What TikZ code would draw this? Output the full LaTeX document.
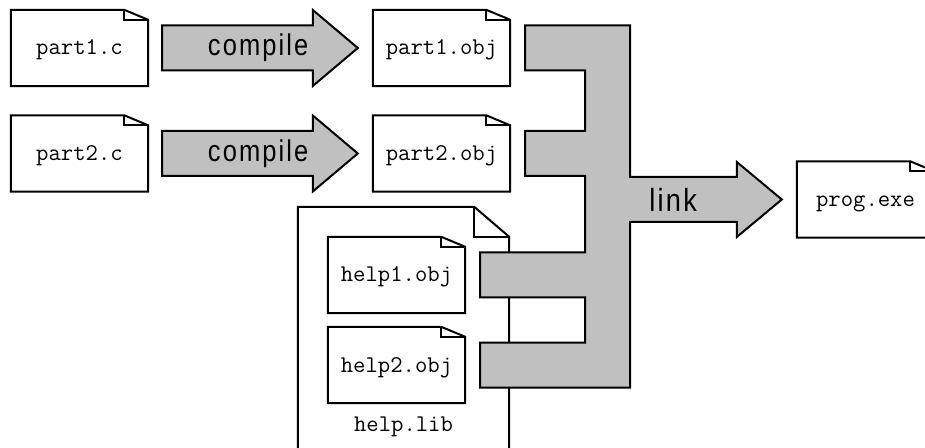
\documentclass[tikz,border=0pt]{standalone}
\usepackage{fontspec}
\newfontfamily\verbfont[FakeStretch=0.85,LetterSpace=7]{Liberation Sans}
\usetikzlibrary{calc}
\definecolor{flowgray}{RGB}{192,192,192}

% outline of a document with a dog-eared top right corner
% #1 node name, #2 fold width, #3 fold height
\newcommand\docoutline[3]{%
  \draw[fileline] (#1.south west) -- (#1.north west) -- ($(#1.north east)+(-#2,0)$)
    -- ($(#1.north east)+(0,-#3)$) -- (#1.south east) -- cycle;
  \draw[fileline] ($(#1.north east)+(-#2,0)$) -- ($(#1.north east)+(-#2,-#3)$)
    -- ($(#1.north east)+(0,-#3)$);
}

% broad grey "compile" arrow from one file to the next
% #1 source node, #2 target node, #3 name prefix
\newcommand\compilearrow[3]{%
  \coordinate (#3s) at ($(#1.east)+(14,0)$);
  \coordinate (#3e) at ($(#2.west)+(-15,0)$);
  \draw[flow] ($(#3s)+(0,22.5)$) -- ($(#3e)+(-45,22.5)$) -- ($(#3e)+(-45,38)$)
    -- (#3e) -- ($(#3e)+(-45,-38)$) -- ($(#3e)+(-45,-22.5)$)
    -- ($(#3s)+(0,-22.5)$) -- cycle;
  \node[verb] (#3lbl) at ($(#3s)+(96,0)$) {compile};
}

\begin{document}
\begin{tikzpicture}[x=1pt,y=1pt,
  fileline/.style={line width=2pt, line join=miter},
  fname/.style={font=\ttfamily\fontsize{24}{28}\selectfont},
  file/.style={fname, minimum width=137pt, minimum height=76pt, inner sep=0pt,
    text height=14pt, text depth=0pt},
  flow/.style={line width=2pt, fill=flowgray, line join=miter},
  verb/.style={font=\verbfont\fontsize{30}{34}\selectfont, inner sep=0pt},
]
\useasboundingbox (0,0) rectangle (925,447);
\fill[white] (0,0) rectangle (925,447);
\clip (0,0) rectangle (925,447);

% source files and object files
\node[file] (p1c) at (79.5,399)   {part1.c};
\node[file] (p2c) at (79.5,293.5) {part2.c};
\node[file] (p1o) at (441.5,399)   {part1.obj};
\node[file] (p2o) at (441.5,293.5) {part2.obj};
\foreach \n in {p1c,p2c,p1o,p2o} {\docoutline{\n}{24}{10}}

% library holding two object files
\node[minimum width=211pt, minimum height=280pt, inner sep=0pt] (lib) at (403.5,100) {};
\docoutline{lib}{35}{30}
\node[file] (h1) at (396.5,172) {help1.obj};
\node[file] (h2) at (396.5,82)  {help2.obj};
\foreach \n in {h1,h2} {\docoutline{\n}{24}{10}}
\node[fname, inner sep=0pt] (libname) at (403.5,20.5) {help.lib};

% executable
\node[file] (prog) at (865.5,247.5) {prog.exe};
\docoutline{prog}{24}{10}

% compile steps
\compilearrow{p1c}{p1o}{ca}
\compilearrow{p2c}{p2o}{cb}

% link step: four inputs merge into one arrow
\coordinate (trunkR) at ($(p1o.east)+(120,0)$);
\coordinate (trunkL) at ($(trunkR)+(-45,0)$);
\coordinate (tip) at ($(prog.west)+(-15,0)$);
\coordinate (hb) at ($(tip)+(-45,0)$);
\coordinate (bt) at ($(hb)+(0,22.5)$);
\coordinate (bb) at ($(hb)+(0,-22.5)$);
\coordinate (ht) at ($(hb)+(0,37.5)$);
\coordinate (hbm) at ($(hb)+(0,-37.5)$);
\foreach \n in {p1o,p2o,h1,h2} {
  \coordinate (\n-t) at ($(\n.east)+(15,22.5)$);
  \coordinate (\n-b) at ($(\n.east)+(15,-22.5)$);
}
\draw[flow] (p1o-t) -- (trunkR |- p1o-t) -- (trunkR |- bt) -- (bt) -- (ht) -- (tip)
  -- (hbm) -- (bb) -- (trunkR |- bb) -- (trunkR |- h2-b) -- (h2-b) -- (h2-t)
  -- (trunkL |- h2-t) -- (trunkL |- h1-b) -- (h1-b) -- (h1-t) -- (trunkL |- h1-t)
  -- (trunkL |- p2o-b) -- (p2o-b) -- (p2o-t) -- (trunkL |- p2o-t)
  -- (trunkL |- p1o-b) -- (p1o-b) -- cycle;
\node[verb, font=\verbfont\fontsize{32}{36}\selectfont] (linklbl) at ($(trunkR |- tip)+(43,0)$) {link};
\end{tikzpicture}
\end{document}
